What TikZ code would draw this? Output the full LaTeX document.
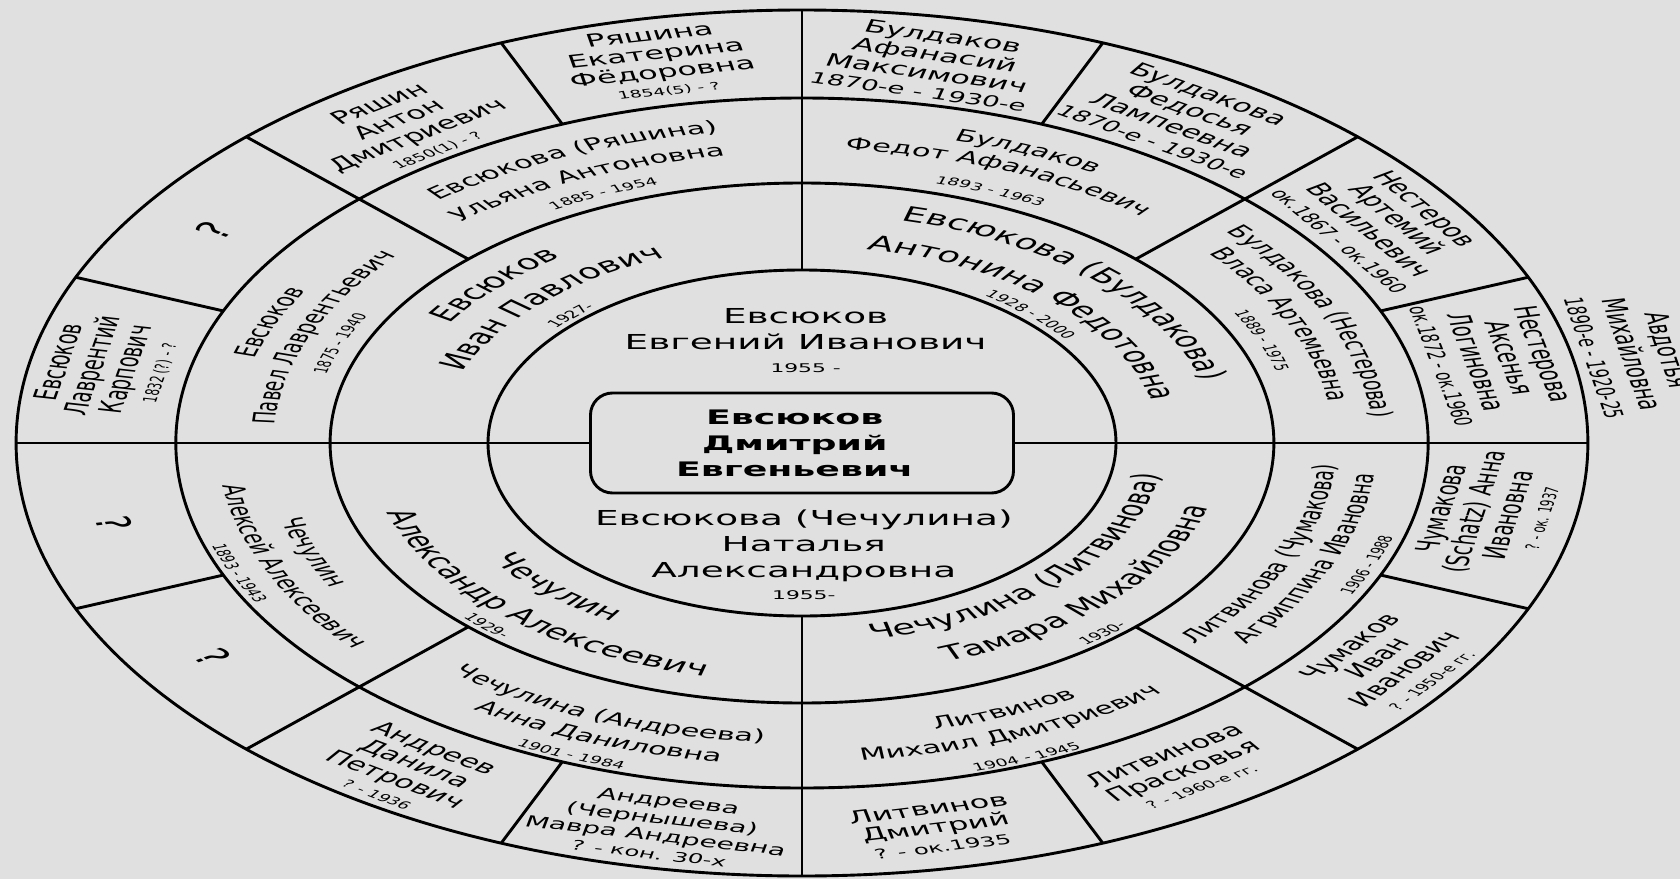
\documentclass[tikz,border=0pt]{standalone}
\usepackage{fontspec}
\setmainfont{DejaVu Sans}
\usetikzlibrary{decorations.text}
\definecolor{bg}{RGB}{224,224,224}
\newcommand\ftwo{\fontsize{10.3}{12}\selectfont}
\newcommand\fthree{\fontsize{8.4}{10}\selectfont}
\newcommand\ffour{\fontsize{8.8}{9.4}\selectfont}
\newcommand\fdate{\fontsize{5.2}{6}\selectfont}
\newcommand\fmid{\fontsize{6.7}{8}\selectfont}
\newcommand\fbig{\fontsize{7.6}{8}\selectfont}
\newcommand\fcen{\fontsize{10.3}{13}\selectfont}
\newcommand\fq{\fontsize{13}{14}\selectfont}
\newcommand\arcup[4]{\path[decorate,decoration={text along path,text={#4},text align=center}] ({#1+#3}:#2) arc[start angle={#1+#3}, end angle={#1-#3}, radius=#2];}
\newcommand\arcdn[4]{\path[decorate,decoration={text along path,text={#4},text align=center}] ({#1-#3}:#2) arc[start angle={#1-#3}, end angle={#1+#3}, radius=#2];}
\tikzset{
  r4/.style={align=center, inner sep=0pt, font=\ffour},
  cen/.style={align=center, inner sep=0pt, font=\fcen},
  bx/.style={align=center, inner sep=0pt, font=\bfseries\fontsize{10}{13}\selectfont},
  qm/.style={inner sep=0pt, font=\fq},
}
\begin{document}
\begin{tikzpicture}[x=0.5pt,y=0.5pt,line width=1.45pt]
\useasboundingbox (-802,-436) rectangle (878,443);
\fill[bg] (-802,-436) rectangle (878,443);
% ---------- lines ----------
\begin{scope}[xscale=1.815]
  \foreach \r in {173,260,345,433} \draw (0,0) circle[radius=\r];
  \node[draw, rounded corners=11pt, minimum width=211.5pt, minimum height=50pt, inner sep=0pt] (box) at (0,0) {};
  \draw (box.west) -- (180:433);
  \draw (box.east) -- (0:433);
  \draw (90:173) -- (90:433);
  \draw (270:173) -- (270:433);
  \foreach \a in {45,135,225,315} \draw (\a:260) -- (\a:433);
  \foreach \a in {22.5,67.5,112.5,157.5,202.5,247.5,292.5,337.5} \draw (\a:345) -- (\a:433);
\end{scope}
% ---------- texts ----------
\begin{scope}[transform canvas={xscale=1.815}]
  % centre
  \node[cen] (father) at (2,102) {Евсюков\\Евгений Иванович\\[-1.5pt]{\fontsize{6}{7}\selectfont 1955 -}};
  \node[bx] (me) at (-4,0) {Евсюков\\Дмитрий\\Евгеньевич};
  \node[cen] (mother) at (1,-112) {Евсюкова (Чечулина)\\Наталья\\Александровна\\[-2pt]{\fontsize{6}{7}\selectfont 1955-}};
  % ring 2
  \arcup{137}{228}{40}{|\ftwo|Евсюков}
  \arcup{135.5}{200}{44}{|\ftwo|Иван Павлович}
  \arcup{135}{177}{20}{|\fdate|1927-}
  \arcup{46}{229}{40}{|\ftwo|Евсюкова (Булдакова)}
  \arcup{46}{197}{44}{|\ftwo|Антонина Федотовна}
  \arcup{45.5}{178}{20}{|\fdate|1928 - 2000}
  \arcdn{227}{207}{40}{|\ftwo|Чечулин}
  \arcdn{227}{239}{44}{|\ftwo|Александр Алексеевич}
  \arcdn{226.5}{256}{20}{|\fdate|1929-}
  \arcdn{316}{200}{42}{|\ftwo|Чечулина (Литвинова)}
  \arcdn{317}{233}{44}{|\ftwo|Тамара Михайловна}
  \arcdn{311}{256}{20}{|\fdate|1930-}
  % ring 3
  \arcup{114}{314}{22}{|\fthree|Евсюкова (Ряшина)}
  \arcup{114.4}{290}{22}{|\fthree|Ульяна Антоновна}
  \arcup{113.7}{270}{20}{|\fdate|1885 - 1954}
  \arcup{157.6}{313}{22}{|\fthree|Евсюков}
  \arcup{158.2}{291}{22}{|\fthree|Павел Лаврентьевич}
  \arcup{158.7}{271}{20}{|\fdate|1875 - 1940}
  \arcup{66.9}{314}{22}{|\fthree|Булдаков}
  \arcup{67.9}{294}{22}{|\fthree|Федот Афанасьевич}
  \arcup{67.6}{270}{20}{|\fdate|1893 - 1963}
  \arcup{23.4}{315}{22}{|\fthree|Булдакова (Нестерова)}
  \arcup{24.2}{293}{22}{|\fthree|Власа Артемьевна}
  \arcup{22}{271}{20}{|\fdate|1889 - 1975}
  \arcdn{202}{297}{22}{|\fthree|Чечулин}
  \arcdn{203.7}{322}{22}{|\fthree|Алексей Алексеевич}
  \arcdn{202.8}{341}{20}{|\fdate|1893 - 1943}
  \arcdn{248}{300}{22}{|\fthree|Чечулина (Андреева)}
  \arcdn{248.9}{322}{22}{|\fthree|Анна Даниловна}
  \arcdn{247.8}{341}{20}{|\fdate|1901 - 1984}
  \arcdn{292.6}{296}{22}{|\fthree|Литвинов}
  \arcdn{292.2}{319}{22}{|\fthree|Михаил Дмитриевич}
  \arcdn{291.5}{342}{20}{|\fdate|1904 - 1945}
  \arcdn{336.4}{295}{22}{|\fthree|Литвинова (Чумакова)}
  \arcdn{337.5}{317}{22}{|\fthree|Агриппина Ивановна}
  \arcdn{338.6}{339}{20}{|\fdate|1906 - 1988}
  % ring 4
  \node[r4, rotate=11] (k1) at (101.7:389) {Ряшина\\Екатерина\\Фёдоровна\\[-1pt]{\fdate 1854(5) - ?}};
  \node[r4, rotate=34.5] (k2) at (124.5:384) {Ряшин\\Антон\\Дмитриевич\\[-1pt]{\fdate 1850(1) - ?}};
  \node[qm, rotate=56.7] (k3) at (146.7:388) {?};
  \node[r4, rotate=78.8] (k4) at (168.8:390) {Евсюков\\Лаврентий\\Карпович\\[-1pt]{\fdate 1832 (?) - ?}};
  \node[qm, rotate=-78.1] (k5) at (191.9:387) {?};
  \node[qm, rotate=-56.6] (k6) at (213.4:389) {?};
  \node[r4, rotate=-34.5] (k7) at (236.4:393) {Андреев\\Данила\\Петрович\\[-1pt]{\fdate ? - 1936}};
  \node[r4, rotate=-11.8, font=\fontsize{7.8}{8.8}\selectfont] (k8) at (258.4:392) {Андреева\\(Чернышева)\\Мавра Андреевна\\{\fmid ? - кон. 30-х}};
  \node[r4, rotate=12.2] (k9) at (280.8:391) {Литвинов\\Дмитрий\\{\fmid ? - ок.1935}};
  \node[r4, rotate=33.6] (k10) at (302.6:388) {Литвинова\\Прасковья\\[-1pt]{\fdate ? - 1960-е гг.}};
  \node[r4, rotate=53] (k11) at (325.8:391) {Чумаков\\Иван\\Иванович\\[-1pt]{\fdate ? - 1950-е гг.}};
  \node[r4, rotate=79.5] (k12) at (349.5:385) {Чумакова\\(Schatz) Анна\\Ивановна\\[-1pt]{\fdate ? - ок. 1937}};
  \node[r4, rotate=-77.7] (k13) at (12.3:390) {Нестерова\\Аксенья\\Логиновна\\{\fmid ок.1872 - ок.1960}};
  \node[r4, rotate=-55.7] (k14) at (34.3:388) {Нестеров\\Артемий\\Васильевич\\{\fmid ок.1867 - ок.1960}};
  \node[r4, rotate=-32.9] (k15) at (57.3:387) {Булдакова\\Федосья\\Лампеевна\\{\fbig 1870-е - 1930-е}};
  \node[r4, rotate=-14] (k16) at (79.4:386) {Булдаков\\Афанасий\\Максимович\\{\fbig 1870-е - 1930-е}};
  \node[r4, rotate=-79, font=\fontsize{8.8}{10.2}\selectfont] (ext) at (11:466) {Авдотья\\Михайловна\\{\fontsize{7.1}{8}\selectfont 1890-е - 1920-25}};
\end{scope}
\end{tikzpicture}
\end{document}
